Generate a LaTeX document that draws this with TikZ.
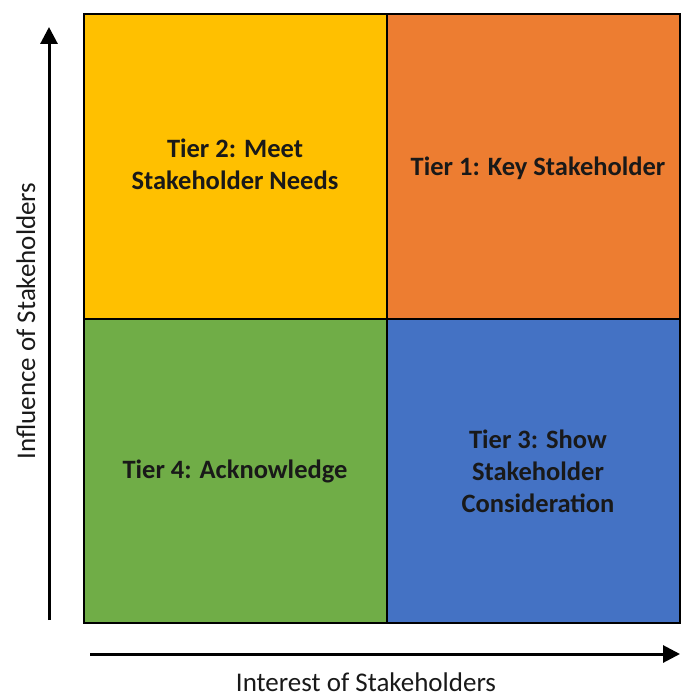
\documentclass[tikz,border=0pt]{standalone}
\usepackage{fontspec}
\setmainfont{Carlito}
\usetikzlibrary{arrows.meta}

\definecolor{tieryellow}{HTML}{FFC000}
\definecolor{tierorange}{HTML}{ED7D31}
\definecolor{tiergreen}{HTML}{70AD47}
\definecolor{tierblue}{HTML}{4472C4}

\tikzset{
  quad/.style={draw=black, line width=1.2pt},
  tier/.style={font=\fontsize{26.5}{32}\selectfont\bfseries, align=center, text=black!90},
  axislabel/.style={font=\fontsize{27}{30}\selectfont, text=black!90, inner sep=1pt},
  axis/.style={line width=3pt, -{Triangle[width=17pt,length=17pt]}}
}

\begin{document}
\begin{tikzpicture}[x=1pt, y=-1pt]
  \useasboundingbox (0,0) rectangle (681,698);
  % the four quadrants
  \draw[quad, fill=tieryellow] (84,14) rectangle (387,319);
  \draw[quad, fill=tierorange] (387,14) rectangle (680,319);
  \draw[quad, fill=tiergreen] (84,319) rectangle (387,623);
  \draw[quad, fill=tierblue] (387,319) rectangle (680,623);
  % tier names
  \node[tier] (tier2) at (235,164) {Tier 2: Meet\\Stakeholder Needs};
  \node[tier] (tier1) at (538,168) {Tier 1: Key Stakeholder};
  \node[tier] (tier4) at (235,471) {Tier 4: Acknowledge};
  \node[tier] (tier3) at (538,471) {Tier 3: Show\\Stakeholder\\Consideration};
  % axes
  \coordinate (ystart) at (49,620);
  \coordinate (yend) at (49,27);
  \coordinate (xstart) at (90,654);
  \coordinate (xend) at (680,654);
  \draw[axis] (ystart) -- (yend);
  \draw[axis] (xstart) -- (xend);
  \node[axislabel, rotate=90, anchor=base] (ylabel) at (35,321) {Influence of Stakeholders};
  \node[axislabel, anchor=base] (xlabel) at (366,691) {Interest of Stakeholders};
\end{tikzpicture}
\end{document}
